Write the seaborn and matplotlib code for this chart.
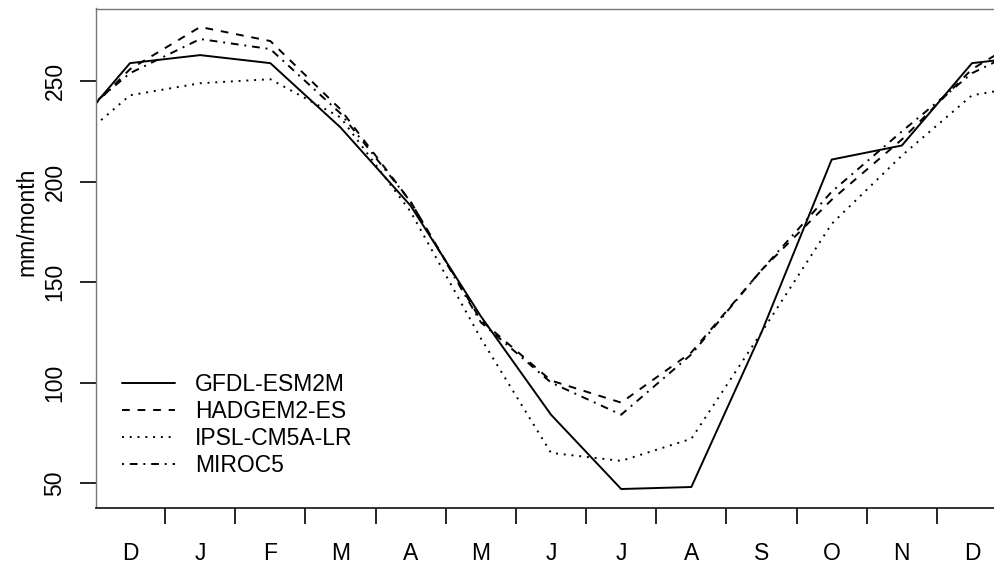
import matplotlib
matplotlib.use("Agg")
import matplotlib.pyplot as plt
import numpy as np
import pandas as pd
import seaborn as sns

# monthly climatology, Dec -> Nov
month_labels = ["D", "J", "F", "M", "A", "M", "J", "J", "A", "S", "O", "N", "D"]
models = ["GFDL-ESM2M", "HADGEM2-ES", "IPSL-CM5A-LR", "MIROC5"]
gfdl = [259, 263, 259, 227, 188, 133, 84, 47, 48, 125, 211, 218]
hadgem = [256, 277, 270, 236, 190, 131, 101, 90, 115, 156, 191, 221]
ipsl = [243, 249, 251, 232, 185, 122, 65, 61, 72, 125, 179, 213]
miroc = [254, 271, 266, 234, 190, 130, 100, 84, 114, 156, 195, 225]

styles = {
    "GFDL-ESM2M": "-",
    "HADGEM2-ES": (0, (4, 4)),
    "IPSL-CM5A-LR": (0, (1, 3)),
    "MIROC5": (0, (1, 3, 4, 3)),
}

# wrap the cycle so lines run off both edges (N before first D, J after last D)
rows = []
for name, vals in zip(models, [gfdl, hadgem, ipsl, miroc]):
    ext = [vals[-1]] + vals + [vals[0], vals[1]]
    for i, v in enumerate(ext):
        rows.append({"model": name, "x": i, "value": v})
df = pd.DataFrame(rows)

sns.set_style("ticks")
plt.rcParams["font.family"] = ["Liberation Sans", "DejaVu Sans"]
plt.rcParams["text.color"] = "black"
plt.rcParams["xtick.color"] = "black"
plt.rcParams["ytick.color"] = "black"
plt.rcParams["axes.labelcolor"] = "black"

fig = plt.figure(figsize=(9.95, 5.72), dpi=100)
ax = fig.add_axes([96.3 / 995, 1 - 507.5 / 572, 909.4 / 995, 499 / 572])

for name in models:
    sub = df[df.model == name]
    sns.lineplot(data=sub, x="x", y="value", ax=ax, color="black",
                 linewidth=1.4, linestyle=styles[name], label=name)

ax.set_xlim(0.52, 13.48)
ax.set_ylim(37.8, 286.2)

# month letters at centres, tick marks at month boundaries
ax.set_xticks(np.arange(1, 14))
ax.set_xticklabels(month_labels)
ax.set_xticks(np.arange(1.5, 13), minor=True)
ax.tick_params(axis="x", which="major", length=0, pad=25, labelsize=16.5)
ax.tick_params(axis="x", which="minor", length=11.5, width=1.2)

ax.set_yticks([50, 100, 150, 200, 250])
ax.tick_params(axis="y", length=11.5, width=1.2, pad=10,
               labelsize=16.5, labelrotation=90)
for t in ax.get_yticklabels():
    t.set_va("center")

ax.set_xlabel("")
ax.set_ylabel("mm/month", fontsize=16.5, va="center")
ax.yaxis.set_label_coords((27 - 96.3) / 909.4, 1 - (222 - 8.5) / 499)

for s in ["left", "top", "right"]:
    ax.spines[s].set_color("#777777")
    ax.spines[s].set_linewidth(1.0)
ax.spines["bottom"].set_color("#222222")
ax.spines["bottom"].set_linewidth(1.3)

handles, labels = ax.get_legend_handles_labels()
ax.legend(handles, labels, loc="upper left",
          bbox_to_anchor=((122 - 96.3) / 909.4, 1 - (373 - 8.5) / 499),
          frameon=False, fontsize=16.5, handlelength=2.3, handletextpad=0.9,
          labelspacing=0.18, borderpad=0, borderaxespad=0)

fig.savefig("out.png", dpi=100)
